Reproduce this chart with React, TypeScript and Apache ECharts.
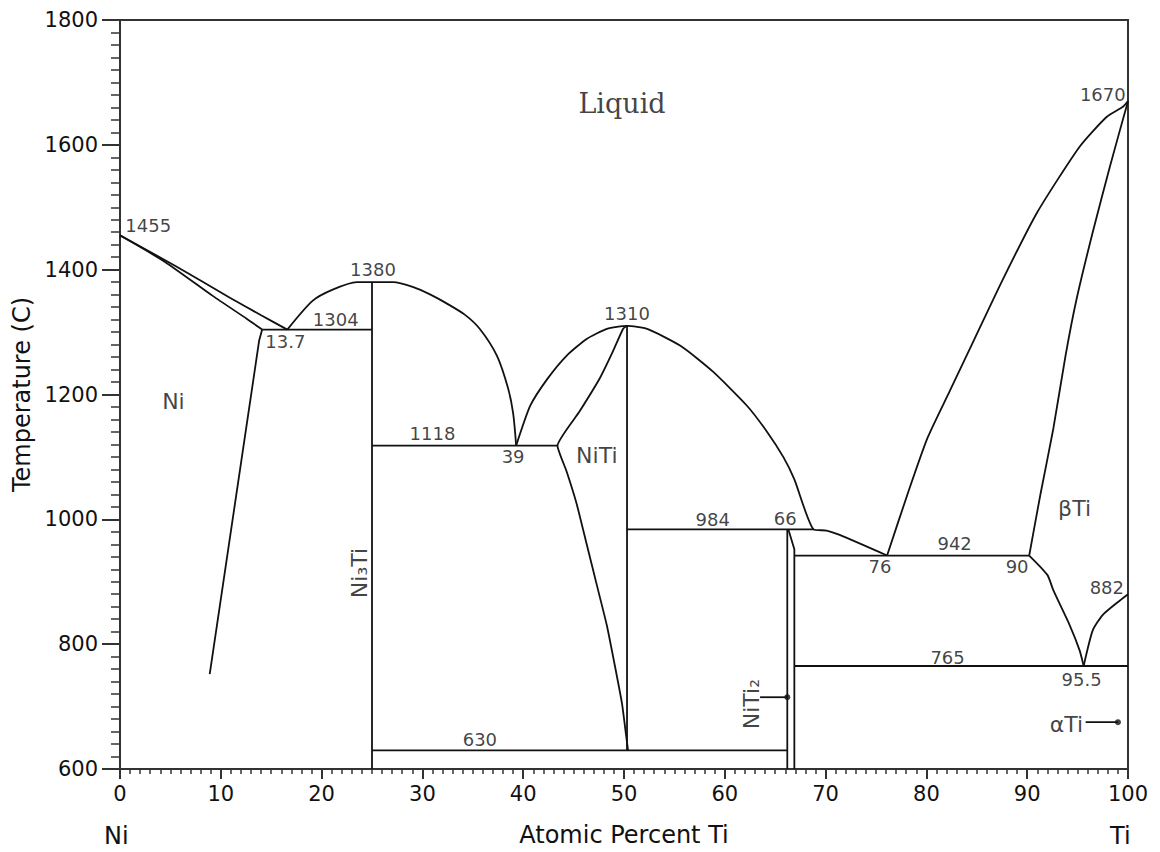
import React, { useEffect, useRef } from "react";
import * as echarts from "echarts";

// ---- Axis ranges / ticks ----
const xTicks = [0, 10, 20, 30, 40, 50, 60, 70, 80, 90, 100];
const yTicks = [600, 800, 1000, 1200, 1400, 1600, 1800];

// ---- Phase boundary curves [at.% Ti, °C] ----
const niLiquidus = [[0, 1455], [5.5, 1406], [10.9, 1355], [14, 1327], [16.6, 1304]];
const niSolidus = [[0, 1455], [4.5, 1412], [9.2, 1358], [12.6, 1321], [14.1, 1304]];
const niSolvus = [[14.1, 1304], [13.8, 1286], [8.9, 752]];
const ni3TiLiquidus = [
  [16.6, 1304], [19.1, 1350], [21.1, 1368], [23.5, 1380], [27.1, 1380], [29.1, 1372],
  [30.8, 1360], [32.4, 1346], [34.2, 1328], [35.7, 1305], [37.4, 1262], [38.5, 1210], [39.0, 1170], [39.3, 1118],
];
const niTiLiquidus = [
  [39.3, 1118], [40.7, 1182], [42.4, 1225], [44.3, 1262], [46.3, 1289], [48.3, 1305], [50.3, 1310],
  [52.3, 1305], [55.6, 1278], [58.8, 1237], [62.2, 1182], [64.2, 1140], [65.8, 1100], [66.9, 1064],
  [68.8, 984], [70.1, 982], [71.4, 975], [76.1, 942],
];
const niTiLeft = [
  [50.3, 1310], [49.9, 1305], [48.9, 1269], [47.6, 1226], [45.6, 1173], [43.4, 1118], [44.3, 1077],
  [45.3, 1025], [46.3, 960], [47.3, 895], [48.3, 830], [49.1, 765], [49.8, 705], [50.2, 655], [50.4, 630],
];
const niTiRight = [[50.3, 1310], [50.3, 630]];
const tiLiquidus = [
  [76.1, 942], [78.1, 1039], [80.1, 1130], [82.3, 1205], [84.8, 1290], [87.6, 1385], [91.0, 1492],
  [95.2, 1597], [97.9, 1645], [99.5, 1661], [100, 1670],
];
const betaTiSolidus = [
  [100, 1670], [98.2, 1565], [96.5, 1460], [94.9, 1353], [93.8, 1262], [92.6, 1146], [91.3, 1039], [90.2, 942],
];
const betaAlphaLeft = [[90.2, 942], [92.0, 911], [92.6, 886], [94.2, 831], [95.2, 790], [95.6, 765]];
const betaAlphaRight = [[95.6, 765], [96.5, 822], [97.5, 847], [99.2, 870], [100, 880]];

// ---- Invariant lines and compounds ----
const iso1304 = [[14.1, 1304], [25, 1304]];
const iso1118 = [[25, 1118], [43.4, 1118]];
const iso984 = [[50.3, 984], [68.8, 984]];
const iso942 = [[66.9, 942], [90.2, 942]];
const iso765 = [[66.9, 765], [100, 765]];
const iso630 = [[25, 630], [66.2, 630]];
const ni3Ti = [[25, 600], [25, 1380]];
const niTi2A = [[66.2, 600], [66.2, 984]];
const niTi2B = [[66.3, 984], [66.9, 952], [66.9, 600]];
const niTi2Pointer = [[63.5, 715], [66.2, 715]];
const alphaTiPointer = [[95.8, 675], [99.0, 675]];
const pointerDots = [[66.2, 715], [99.0, 675]];

// ---- Annotations [x, T, text] ----
const numberLabels: [number, number, string][] = [
  [2.8, 1470, "1455"], [25.1, 1401, "1380"], [21.4, 1320, "1304"], [16.4, 1285, "13.7"],
  [50.3, 1329, "1310"], [31.0, 1138, "1118"], [39.0, 1101, "39"], [58.8, 999, "984"],
  [66.0, 1002, "66"], [82.8, 962, "942"], [75.4, 925, "76"], [89.0, 925, "90"],
  [97.9, 890, "882"], [82.1, 779, "765"], [95.4, 744, "95.5"], [35.7, 648, "630"], [97.5, 1680, "1670"],
];
const phaseLabels: [number, number, string][] = [
  [5.3, 1189, "Ni"], [47.3, 1103, "NiTi"], [94.7, 1018, "βTi"], [93.9, 672, "αTi"],
];
const rotatedLabels: [number, number, string][] = [
  [23.8, 914, "Ni₃Ti"], [62.6, 704, "NiTi₂"],
];
const liquidLabel: [number, number, string] = [49.8, 1667, "Liquid"];

const SANS = "DejaVu Sans";
const INK = "#111";

function curve(name: string, data: number[][], smooth: number | boolean = false) {
  return {
    name,
    type: "line",
    data,
    showSymbol: false,
    symbol: "none",
    silent: true,
    clip: false,
    smooth,
    lineStyle: { color: INK, width: 1.8 },
    z: 3,
  };
}

export default function App() {
  const ref = useRef<HTMLDivElement>(null);
  useEffect(() => {
    if (!ref.current) return;
    const chart = echarts.init(ref.current, null, { renderer: "svg" });
    const labelData = [
      ...numberLabels.map(([x, y, t]) => ({
        name: t, value: [x, y],
        label: { fontSize: 18, fontFamily: SANS },
      })),
      ...phaseLabels.map(([x, y, t]) => ({
        name: t, value: [x, y],
        label: { fontSize: 22, fontFamily: SANS },
      })),
      ...rotatedLabels.map(([x, y, t]) => ({
        name: t, value: [x, y],
        label: { fontSize: 22, fontFamily: SANS, rotate: 90 },
      })),
      {
        name: liquidLabel[2], value: [liquidLabel[0], liquidLabel[1]],
        label: { fontSize: 27, fontFamily: "DejaVu Serif" },
      },
    ];
    chart.setOption({
      animation: false,
      backgroundColor: "#ffffff",
      grid: {
        left: 120, right: 32, top: 20, bottom: 80,
        show: true, borderColor: "#333", borderWidth: 2,
      },
      xAxis: {
        type: "value", min: xTicks[0], max: xTicks[xTicks.length - 1], interval: 10,
        name: "Atomic Percent Ti", nameLocation: "middle", nameGap: 54,
        nameTextStyle: { fontFamily: SANS, fontSize: 24, color: INK },
        axisLine: { onZero: false, lineStyle: { color: "#333", width: 2 } },
        axisTick: { length: 10, lineStyle: { color: "#333", width: 2 } },
        minorTick: { show: true, splitNumber: 10, length: 5, lineStyle: { color: "#333", width: 1.5 } },
        axisLabel: { fontFamily: SANS, fontSize: 21, color: INK, margin: 14, formatter: (v: number) => String(v) },
        splitLine: { show: false },
      },
      yAxis: {
        type: "value", min: yTicks[0], max: yTicks[yTicks.length - 1], interval: 200,
        name: "Temperature (C)", nameLocation: "middle", nameGap: 85,
        nameTextStyle: { fontFamily: SANS, fontSize: 24, color: INK },
        axisLine: { onZero: false, lineStyle: { color: "#333", width: 2 } },
        axisTick: { length: 18, lineStyle: { color: "#333", width: 2 } },
        minorTick: { show: true, splitNumber: 10, length: 9, lineStyle: { color: "#333", width: 1.5 } },
        axisLabel: { fontFamily: SANS, fontSize: 21, color: INK, margin: 22, formatter: (v: number) => String(v) },
        splitLine: { show: false },
      },
      graphic: [
        { type: "text", left: 104, top: 824, style: { text: "Ni", fontFamily: SANS, fontSize: 24, fill: INK } },
        { type: "text", left: 1110, top: 824, style: { text: "Ti", fontFamily: SANS, fontSize: 24, fill: INK } },
      ],
      series: [
        curve("Ni liquidus", niLiquidus, 0.2),
        curve("Ni solidus", niSolidus, 0.2),
        curve("Ni solvus", niSolvus),
        curve("Ni3Ti liquidus", ni3TiLiquidus, 0.25),
        curve("NiTi liquidus", niTiLiquidus, 0.2),
        curve("NiTi left", niTiLeft, 0.15),
        curve("NiTi right", niTiRight),
        curve("Ti liquidus", tiLiquidus, 0.2),
        curve("βTi solidus", betaTiSolidus, 0.2),
        curve("β/α left", betaAlphaLeft, 0.2),
        curve("β/α right", betaAlphaRight, 0.2),
        curve("1304", iso1304),
        curve("1118", iso1118),
        curve("984", iso984),
        curve("942", iso942),
        curve("765", iso765),
        curve("630", iso630),
        curve("Ni3Ti", ni3Ti),
        curve("NiTi2 a", niTi2A),
        curve("NiTi2 b", niTi2B),
        curve("NiTi2 pointer", niTi2Pointer),
        curve("αTi pointer", alphaTiPointer),
        {
          name: "dots", type: "scatter", data: pointerDots, symbolSize: 6,
          itemStyle: { color: INK }, silent: true, z: 4,
        },
        {
          name: "labels", type: "scatter", data: labelData, symbolSize: 1,
          itemStyle: { color: "rgba(0,0,0,0)" }, silent: true, clip: false, z: 5,
          label: {
            show: true, position: "inside", formatter: "{b}", color: INK, textBorderWidth: 0,
          },
        },
      ],
    });
    return () => chart.dispose();
  }, []);
  return (
    <div
      ref={ref}
      style={{ position: "fixed", left: 0, top: 0, width: 1160, height: 852, background: "#fff" }}
    />
  );
}
